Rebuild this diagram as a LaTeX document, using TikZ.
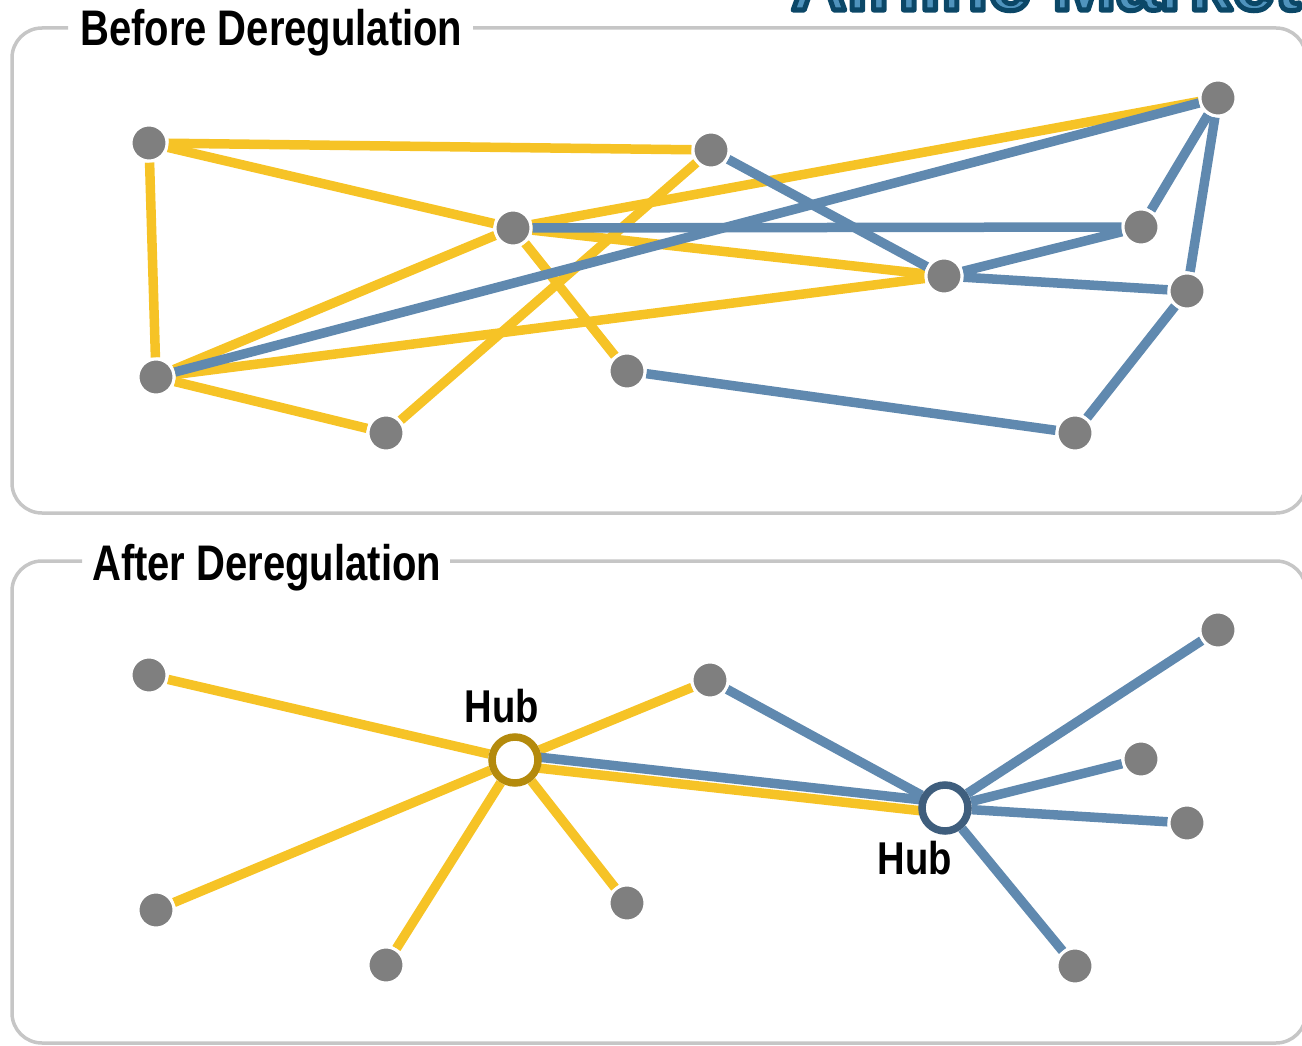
\documentclass[tikz,border=0pt]{standalone}
\usepackage{fontspec}
\setmainfont{Liberation Sans}
\definecolor{routeyellow}{HTML}{F6C326}
\definecolor{routeblue}{HTML}{6089AF}
\definecolor{citygray}{HTML}{7F7F7F}
\definecolor{framegray}{HTML}{C6C6C6}
\definecolor{hubgold}{HTML}{B48A0C}
\definecolor{hubslate}{HTML}{3F5E7D}
\definecolor{titlemid}{HTML}{4F93BD}
\pgfdeclarelayer{routes}
\pgfsetlayers{routes,main}
% outlined lettering: fill in the current colour, stroke in a dark teal
\newcommand{\outlinedtext}[1]{%
  \special{pdf:literal 2 Tr 5 w 1 j 0.043 0.278 0.404 RG}#1\special{pdf:literal 0 Tr 1 w 0 j}}
\begin{document}
\begin{tikzpicture}[x=1pt,y=-1pt,
  yel/.style={draw=routeyellow, line width=9.5pt},
  blu/.style={draw=routeblue, line width=9.5pt},
  city/.style={circle, fill=citygray, draw=white, line width=3pt, minimum size=36pt, inner sep=0pt},
  hub/.style={circle, fill=white, line width=7.5pt, minimum size=46pt, inner sep=0pt},
  frame/.style={draw=framegray, line width=3.5pt, rounded corners=30pt},
  paneltitle/.style={font=\bfseries\fontsize{50}{60}\selectfont, xscale=0.8, anchor=base west, inner sep=0pt},
  hublabel/.style={font=\bfseries\fontsize{46}{55}\selectfont, xscale=0.83, anchor=base, inner sep=0pt},
  banner/.style={font=\bfseries\fontsize{77}{90}\selectfont, anchor=base west, inner sep=0pt}]
\useasboundingbox (0,0) rectangle (1302,1046);

% banner heading, running off the top edge
\node[banner, text=titlemid] (banner) at (791,10) {\outlinedtext{Airline Market}};

% panel frames
\draw[frame] (68,28) -- (12,28) -- (12,513) -- (1306,513) -- (1306,28) -- (473,28);
\draw[frame] (82,561) -- (12,561) -- (12,1043) -- (1306,1043) -- (1306,561) -- (450,561);
\node[paneltitle] (t1) at (80,46) {Before Deregulation};
\node[paneltitle] (t2) at (92,580) {After Deregulation};

% ---- point-to-point network ----
\node[city] (A) at (149,143) {};
\node[city] (B) at (711,150) {};
\node[city] (C) at (513,228) {};
\node[city] (D) at (1218,98) {};
\node[city] (E) at (1141,227) {};
\node[city] (F) at (944,276) {};
\node[city] (G) at (1187,291) {};
\node[city] (H) at (156,377) {};
\node[city] (I) at (386,433) {};
\node[city] (J) at (627,371) {};
\node[city] (K) at (1075,433) {};

% ---- hub-and-spoke network ----
\node[city] (a) at (149,675) {};
\node[city] (b) at (710,680) {};
\node[city] (d) at (1218,630) {};
\node[city] (e) at (1141,759) {};
\node[city] (g) at (1187,823) {};
\node[city] (h) at (156,910) {};
\node[city] (i) at (386,965) {};
\node[city] (j) at (627,903) {};
\node[city] (k) at (1075,966) {};
\node[hub, draw=hubgold] (hubW) at (515,760) {};
\node[hub, draw=hubslate] (hubE) at (945,808) {};
\node[hublabel] (lw) at (502,722) {Hub};
\node[hublabel] (le) at (915,874) {Hub};

% routes sit behind the city markers; blue routes over yellow ones
\begin{pgfonlayer}{routes}
  \draw[yel] (A) -- (B);
  \draw[yel] (A) -- (C);
  \draw[yel] (A) -- (H);
  \draw[yel] (C) -- (D);
  \draw[yel] (C) -- (F);
  \draw[yel] (H) -- (C);
  \draw[yel] (H) -- (F);
  \draw[yel] (H) -- (I);
  \draw[yel] (I) -- (B);
  \draw[yel] (C) -- (J);
  \draw[blu] (H) -- (D);
  \draw[blu] (B) -- (F);
  \draw[blu] (C) -- (E);
  \draw[blu] (F) -- (E);
  \draw[blu] (F) -- (G);
  \draw[blu] (D) -- (E);
  \draw[blu] (D) -- (G);
  \draw[blu] (G) -- (K);
  \draw[blu] (J) -- (K);

  \foreach \n in {a,b,h,i,j}
    \draw[yel] (\n) -- (hubW);
  \draw[yel] ([yshift=-5.5pt]hubW.center) -- ([yshift=-5.5pt]hubE.center);
  \draw[blu] ([yshift=5.5pt]hubW.center) -- ([yshift=5.5pt]hubE.center);
  \foreach \n in {b,d,e,g,k}
    \draw[blu] (\n) -- (hubE);
\end{pgfonlayer}
\end{tikzpicture}
\end{document}
